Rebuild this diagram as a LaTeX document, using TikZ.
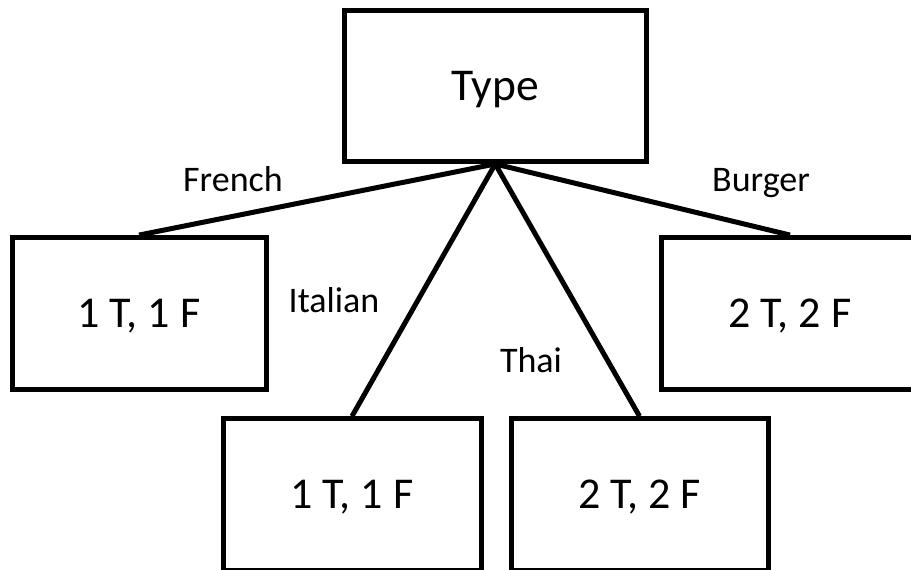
\documentclass[tikz,border=0pt]{standalone}
\usepackage{fontspec}
\setmainfont{Carlito}
\begin{document}
\begin{tikzpicture}[x=1pt,y=-1pt,
  box/.style={draw=black,line width=5pt,inner sep=0pt,minimum width=#1,minimum height=151.5pt,
    text height=28.3pt,text depth=0pt,font=\fontsize{44}{50}\selectfont},
  edge/.style={draw=black,line width=5pt},
  lab/.style={anchor=base,inner sep=0pt,font=\fontsize{36}{40}\selectfont}]
\useasboundingbox (0,0) rectangle (911,570);
\node[box=302.5pt,minimum height=150.7pt,text height=29.3pt,font=\fontsize{45.5}{50}\selectfont] (type) at (495.25,86.15) {Type};
\node[box=254pt] (french) at (139,313.3) {1 T, 1 F};
\node[box=257pt] (burger) at (790,313.3) {2 T, 2 F};
\node[box=258pt] (italian) at (352,494.5) {1 T, 1 F};
\node[box=257pt] (thai) at (639.5,494.5) {2 T, 2 F};
\draw[edge] (type.south) -- (french.north);
\draw[edge] (type.south) -- (italian.north);
\draw[edge] (type.south) -- (thai.north);
\draw[edge] (type.south) -- (burger.north);
\node[lab] (lfrench) at (233,191) {French};
\node[lab] (litalian) at (334,312) {Italian};
\node[lab] (lthai) at (531,372) {Thai};
\node[lab] (lburger) at (761,191) {Burger};
\end{tikzpicture}
\end{document}
